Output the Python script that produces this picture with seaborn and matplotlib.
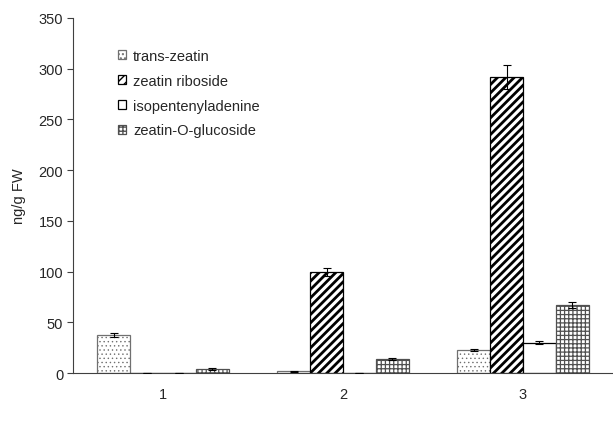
import numpy as np
import pandas as pd
import matplotlib
matplotlib.use("Agg")
import matplotlib.pyplot as plt
import seaborn as sns

# data
groups = ["1", "2", "3"]
compounds = ["trans-zeatin", "zeatin riboside", "isopentenyladenine", "zeatin-O-glucoside"]
trans_zeatin = [38, 2, 23]
zeatin_riboside = [0.3, 100, 292]
isopentenyladenine = [0.2, 0.3, 30]
zeatin_o_glucoside = [4, 14, 67]
err_tz = [2, 0.5, 1]
err_zr = [0.2, 4, 12]
err_ip = [0.1, 0.2, 1.5]
err_zog = [1, 1, 3]

values = [trans_zeatin, zeatin_riboside, isopentenyladenine, zeatin_o_glucoside]
errors = [err_tz, err_zr, err_ip, err_zog]

rows = []
for c, vals in zip(compounds, values):
    for g, v in zip(groups, vals):
        rows.append({"group": g, "compound": c, "value": v})
df = pd.DataFrame(rows)

sns.set_style("white")
plt.rcParams["font.family"] = ["Liberation Sans", "DejaVu Sans"]
fs = 10.5

fig = plt.figure(figsize=(6.13, 4.31), dpi=100)
ax = fig.add_axes([0.119, 0.132, 0.881, 0.824])

sns.barplot(data=df, x="group", y="value", hue="compound", order=groups,
            hue_order=compounds, width=0.73, errorbar=None, legend=False,
            ax=ax, saturation=1)

styles = [
    dict(fc="white", ec="#707070", hatch="....", hlw=0.5),
    dict(fc="white", ec="black", hatch="////", hlw=2.0),
    dict(fc="white", ec="black", hatch="", hlw=0.8),
    dict(fc="white", ec="#505050", hatch="++++", hlw=0.9),
]
for cont, st, err in zip(ax.containers, styles, errors):
    xs = []
    ys = []
    for p in cont.patches:
        p.set_facecolor(st["fc"])
        p.set_edgecolor(st["ec"])
        p.set_hatch(st["hatch"])
        p.set_linewidth(0.9)
        if hasattr(p, "set_hatch_linewidth"):
            p.set_hatch_linewidth(st["hlw"])
        xs.append(p.get_x() + p.get_width() / 2)
        ys.append(p.get_height())
    ax.errorbar(xs, ys, yerr=err, fmt="none", ecolor="black", elinewidth=0.8,
                capsize=3, capthick=0.8, zorder=5)

ax.set_ylim(0, 350)
ax.set_xlim(-0.5, 2.48)
ax.set_yticks(np.arange(0, 351, 50))
ax.set_xlabel("")
ax.set_ylabel("ng/g FW", fontsize=fs, labelpad=9)

ax.set_xticks([-0.5, 0.5, 1.5, 2.5], minor=True)
ax.tick_params(axis="x", which="major", length=0, pad=10)
ax.tick_params(axis="x", which="minor", length=4, width=0.8, color="#404040", direction="out")
ax.tick_params(axis="y", length=4, width=0.8, color="#404040", direction="out", left=True, pad=3)
ax.tick_params(labelsize=fs)

sns.despine(ax=ax, top=True, right=True)
for s in ["left", "bottom"]:
    ax.spines[s].set_color("#404040")
    ax.spines[s].set_linewidth(0.8)

ax.legend(ax.containers, compounds, loc="upper left", bbox_to_anchor=(0.072, 0.93),
          frameon=False, handlelength=0.55, handleheight=0.55, handletextpad=0.5,
          labelspacing=0.75, fontsize=fs, borderaxespad=0)

fig.savefig("out.png", dpi=100)
